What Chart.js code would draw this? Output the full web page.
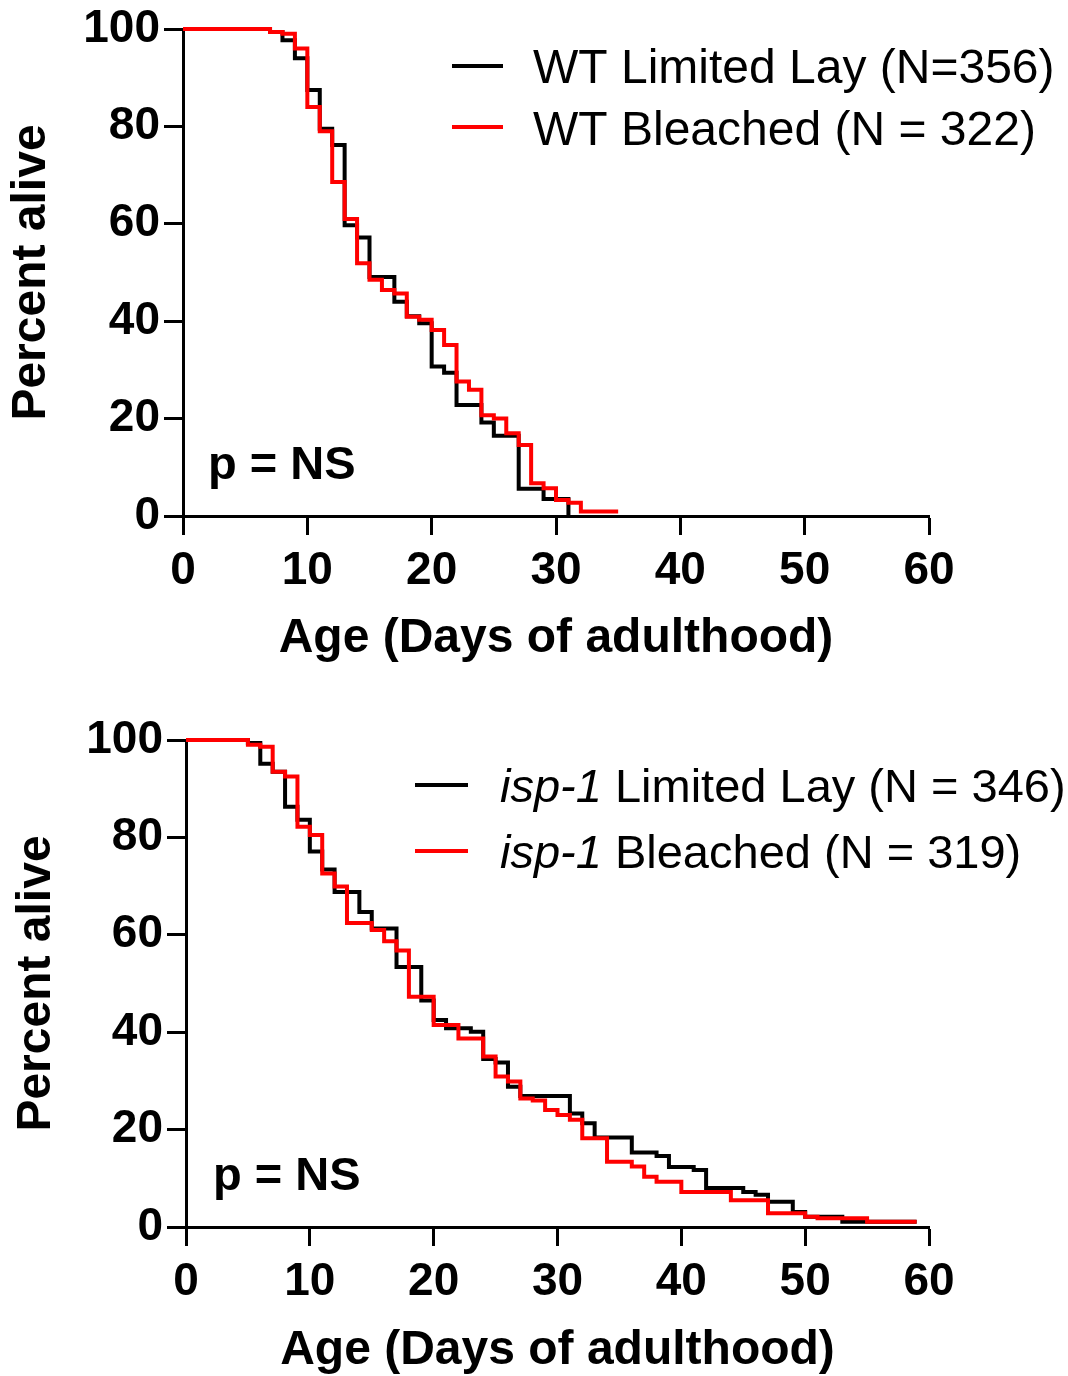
<!DOCTYPE html>
<html>
<head>
<meta charset="utf-8">
<script src="https://cdn.jsdelivr.net/npm/chart.js@4.4.1/dist/chart.umd.min.js"></script>
<style>
  html, body { margin: 0; padding: 0; background: #fff; width: 1068px; height: 1376px; overflow: hidden; }
  .wrap { position: absolute; left: 0; }
</style>
</head>
<body>
<div class="wrap" style="top:0px"><canvas id="c1" width="1068" height="690"></canvas></div>
<div class="wrap" style="top:690px"><canvas id="c2" width="1068" height="686"></canvas></div>
<script>
// ---------- DATA ----------
const xTicks = [0, 10, 20, 30, 40, 50, 60];
const yTicks = [0, 20, 40, 60, 80, 100];

// Panel A: WT
const wtLimitedDays = [0, 7, 8, 9, 10, 11, 12, 13, 14, 15, 17, 18, 19, 20, 21, 22, 24, 25, 27, 29, 31];
const wtLimitedPct  = [100, 99.4, 97.7, 94.0, 87.5, 79.5, 76.2, 59.7, 57.2, 49.1, 44.0, 41.0, 39.6, 30.7, 29.4, 22.8, 19.2, 16.5, 5.6, 3.5, 0];
const wtBleachedDays = [0, 7, 8, 9, 10, 11, 12, 13, 14, 15, 16, 17, 18, 19, 20, 21, 22, 23, 24, 25, 26, 27, 28, 29, 30, 31, 32, 35];
const wtBleachedPct  = [100, 99.4, 99.0, 96.0, 84.0, 79.0, 68.6, 61.0, 51.9, 48.5, 46.4, 45.7, 40.9, 40.3, 38.2, 35.1, 27.6, 25.9, 20.7, 20.0, 17.0, 14.6, 6.7, 5.7, 3.3, 2.7, 0.9, 0.9];

// Panel B: isp-1
const ispLimitedDays = [0, 5, 6, 7, 8, 9, 10, 11, 12, 14, 15, 17, 19, 20, 21, 23, 24, 25, 26, 27, 31, 32, 33, 36, 38, 39, 41, 42, 45, 46, 47, 49, 50, 53, 59];
const ispLimitedPct  = [100, 99.4, 95.1, 93.5, 86.3, 83.6, 77.1, 73.4, 68.8, 64.7, 61.3, 53.4, 46.5, 42.5, 40.8, 40.1, 34.5, 33.8, 28.8, 26.9, 23.3, 21.3, 18.4, 15.3, 14.6, 12.3, 11.7, 8.0, 7.2, 6.6, 5.2, 3.1, 2.1, 1.1, 1.1];
const ispBleachedDays = [0, 5, 6, 7, 8, 9, 10, 11, 12, 13, 15, 16, 17, 18, 20, 22, 24, 25, 26, 27, 28, 29, 30, 31, 32, 34, 36, 37, 38, 40, 44, 47, 50, 51, 55, 59];
const ispBleachedPct  = [100, 99.0, 98.6, 93.5, 92.5, 82.2, 80.5, 72.6, 69.9, 62.4, 61.0, 58.7, 56.8, 47.3, 41.5, 38.7, 35.0, 30.9, 29.9, 26.4, 26.0, 24.0, 23.0, 22.0, 18.2, 13.4, 12.4, 10.3, 9.3, 7.2, 5.5, 2.8, 2.1, 1.8, 1.1, 1.1];

const seriesNamesA = [[{ t: 'WT Limited Lay (N=356)' }], [{ t: 'WT Bleached (N = 322)' }]];
const seriesNamesB = [[{ t: 'isp-1', i: true }, { t: ' Limited Lay (N = 346)' }], [{ t: 'isp-1', i: true }, { t: ' Bleached (N = 319)' }]];
const pLabel = 'p = NS';
const xTitle = 'Age (Days of adulthood)';
const yTitle = 'Percent alive';
const colors = ['#000000', '#ff0000'];

// ---------- HELPERS ----------
const FONT = '"Liberation Sans", Arial, Helvetica, sans-serif';
function pts(days, pct) { return days.map((d, i) => ({ x: d, y: pct[i] })); }

const overlay = {
  id: 'overlay',
  afterDraw(chart, args, o) {
    const ctx = chart.ctx;
    ctx.save();
    o.items.forEach((item, k) => {
      ctx.strokeStyle = colors[k];
      ctx.lineWidth = 4;
      ctx.beginPath();
      ctx.moveTo(o.lineX0, item.lineY);
      ctx.lineTo(o.lineX1, item.lineY);
      ctx.stroke();
      let x = o.textX;
      ctx.fillStyle = '#000';
      ctx.textBaseline = 'alphabetic';
      ctx.textAlign = 'left';
      item.parts.forEach(p => {
        ctx.font = (p.i ? 'italic ' : '') + o.fontSize + 'px ' + FONT;
        ctx.fillText(p.t, x, item.base);
        x += ctx.measureText(p.t).width;
      });
    });
    ctx.font = 'bold 47px ' + FONT;
    ctx.fillStyle = '#000';
    ctx.textBaseline = 'alphabetic';
    ctx.fillText(pLabel, chart.chartArea.left + o.pDx, chart.chartArea.bottom - o.pDy);
    ctx.restore();
  }
};

function makeChart(id, sets, cfg) {
  const datasets = sets.map((s, k) => ({
    data: pts(s.days, s.pct),
    borderColor: colors[k],
    borderWidth: 4,
    stepped: true,
    pointRadius: 0,
    fill: false,
    clip: false,
    order: k === 1 ? 0 : 1
  }));
  return new Chart(document.getElementById(id), {
    type: 'line',
    data: { datasets },
    plugins: [overlay],
    options: {
      responsive: false,
      animation: false,
      events: [],
      layout: { padding: { left: 0, right: 139, top: cfg.top, bottom: 0 } },
      plugins: {
        legend: { display: false },
        tooltip: { enabled: false },
        overlay: cfg.overlay
      },
      scales: {
        x: {
          type: 'linear', min: 0, max: 60,
          afterBuildTicks: s => { s.ticks = xTicks.map(v => ({ value: v })); },
          afterFit: s => { s.height = cfg.xH; s.paddingLeft = 0; s.paddingRight = 0; },
          ticks: { color: '#000', padding: 9, font: { family: FONT, size: 46, weight: 'bold', lineHeight: 1.2 }, maxRotation: 0 },
          grid: { drawOnChartArea: false, drawTicks: true, tickLength: 19, tickWidth: 3, tickColor: '#000' },
          border: { display: true, color: '#000', width: 3 },
          title: { display: true, text: xTitle, color: '#000', font: { family: FONT, size: 48, weight: 'bold', lineHeight: 1.05 }, padding: { top: 0, bottom: cfg.xTitlePad } }
        },
        y: {
          type: 'linear', min: 0, max: 100,
          afterBuildTicks: s => { s.ticks = yTicks.map(v => ({ value: v })); },
          afterFit: s => { s.width = cfg.yW; s.paddingTop = 0; s.paddingBottom = 0; },
          ticks: { color: '#000', padding: 4, font: { family: FONT, size: 46, weight: 'bold', lineHeight: 1.2 } },
          grid: { drawOnChartArea: false, drawTicks: true, tickLength: 19, tickWidth: 3, tickColor: '#000' },
          border: { display: true, color: '#000', width: 3 },
          title: { display: true, text: yTitle, color: '#000', font: { family: FONT, size: 48, weight: 'bold', lineHeight: 1.2 }, padding: { top: cfg.yTitlePad, bottom: 0 } }
        }
      }
    }
  });
}

makeChart('c1', [
  { days: wtLimitedDays, pct: wtLimitedPct },
  { days: wtBleachedDays, pct: wtBleachedPct }
], {
  top: 29, xH: 174, yW: 183, xTitlePad: 26, yTitlePad: 3,
  overlay: {
    lineX0: 452, lineX1: 503, textX: 533, fontSize: 48,
    items: [
      { parts: seriesNamesA[0], lineY: 66, base: 83 },
      { parts: seriesNamesA[1], lineY: 127, base: 145 }
    ],
    pDx: 25, pDy: 37
  }
});

makeChart('c2', [
  { days: ispLimitedDays, pct: ispLimitedPct },
  { days: ispBleachedDays, pct: ispBleachedPct }
], {
  top: 50, xH: 149, yW: 186, xTitlePad: 0, yTitlePad: 8,
  overlay: {
    lineX0: 415, lineX1: 468, textX: 500, fontSize: 47,
    items: [
      { parts: seriesNamesB[0], lineY: 95, base: 112 },
      { parts: seriesNamesB[1], lineY: 161, base: 178 }
    ],
    pDx: 27, pDy: 37
  }
});
</script>
</body>
</html>
